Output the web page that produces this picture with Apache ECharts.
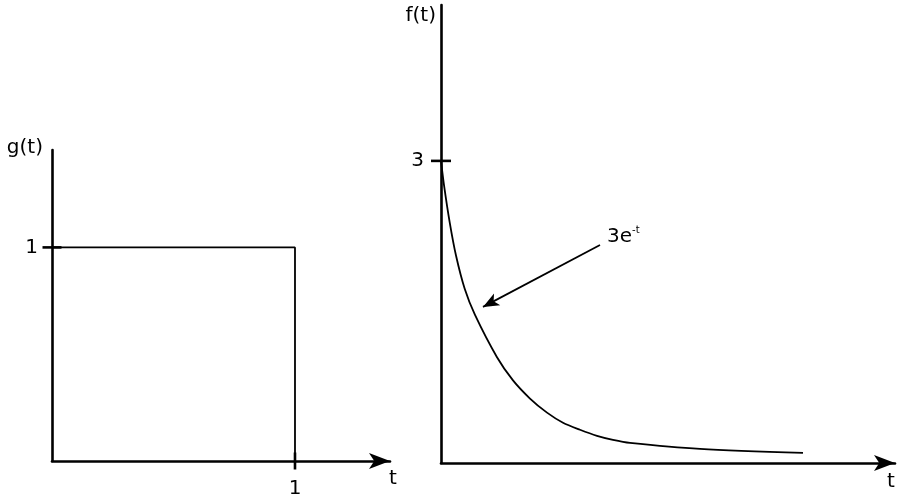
<!DOCTYPE html>
<html><head><meta charset="utf-8">
<script src="https://cdn.jsdelivr.net/npm/echarts@6/dist/echarts.min.js"></script>
<style>html,body{margin:0;padding:0;background:#fff}#c{width:900px;height:499px}</style>
</head><body><div id="c"></div>
<script>
// Left panel: g(t) rectangular pulse
const gPulse = [[0, 1], [1, 1], [1, 0]];
const gTickY = [1];
const gTickX = [1];
// Right panel: f(t) = 3e^-t (as drawn)
const fT = [0, 0.03, 0.087, 0.15, 0.237, 0.34, 0.56, 0.72, 0.89, 1.06, 1.22, 1.39, 1.56, 1.72, 1.89, 2.59, 3.62];
const fV = [3.00, 2.76, 2.39, 2.06, 1.73, 1.47, 1.05, 0.82, 0.64, 0.50, 0.40, 0.33, 0.27, 0.23, 0.20, 0.14, 0.10];
const fTickY = [3];
const annotFrom = [1.59, 2.165];
const annotTo = [0.42, 1.55];
const annotLabelAt = [1.66, 2.25];

const FONT = 'DejaVu Sans';
const axisLine = {lineStyle: {color: '#000', width: 2.6}};
const arrowLine = {symbol: ['none', 'arrow'], symbolSize: [12, 21], lineStyle: {color: '#000', width: 2.6}};
const txt = {fontFamily: FONT, fontSize: 20, color: '#000'};
const solid = {color: '#000', opacity: 1};

const chart = echarts.init(document.getElementById('c'), null, {renderer: 'canvas'});
chart.setOption({
  animation: false,
  backgroundColor: '#fff',
  grid: [
    {left: 52, right: 510, top: 150, bottom: 36},
    {left: 441, right: 5, top: 5, bottom: 36}
  ],
  xAxis: [
    {gridIndex: 0, type: 'value', min: 0, max: 1.391, splitLine: {show: false}, axisTick: {show: false},
     axisLine: arrowLine, axisLabel: {show: true, customValues: gTickX, margin: 18, ...txt},
     name: 't', nameLocation: 'end', nameGap: 3, nameTextStyle: {...txt, align: 'center', verticalAlign: 'top', padding: [8, 0, 0, 0]}},
    {gridIndex: 1, type: 'value', min: 0, max: 4.54, splitLine: {show: false}, axisTick: {show: false},
     axisLine: arrowLine, axisLabel: {show: false},
     name: 't', nameLocation: 'end', nameGap: -4, nameTextStyle: {...txt, align: 'center', verticalAlign: 'top', padding: [9, 0, 0, 0]}}
  ],
  yAxis: [
    {gridIndex: 0, type: 'value', min: 0, max: 1.456, splitLine: {show: false}, axisTick: {show: false},
     axisLine: axisLine, axisLabel: {show: true, customValues: gTickY, margin: 14, ...txt, padding: [3, 0, 0, 0]},
     name: 'g(t)', nameLocation: 'end', nameGap: 2, nameTextStyle: {...txt, align: 'right', verticalAlign: 'middle', padding: [0, 9, 0, 0]}},
    {gridIndex: 1, type: 'value', min: 0, max: 4.548, splitLine: {show: false}, axisTick: {show: false},
     axisLine: axisLine, axisLabel: {show: true, customValues: fTickY, margin: 17, ...txt, padding: [5, 0, 0, 0]},
     name: 'f(t)', nameLocation: 'end', nameGap: -11, nameTextStyle: {...txt, align: 'right', verticalAlign: 'middle', padding: [0, 5, 0, 0]}}
  ],
  series: [
    {type: 'line', xAxisIndex: 0, yAxisIndex: 0, data: gPulse, symbol: 'none', lineStyle: {color: '#000', width: 1.8}},
    {type: 'scatter', xAxisIndex: 0, yAxisIndex: 0, data: gTickY.map(v => [0, v]), symbol: 'rect', symbolSize: [19, 2.6], itemStyle: solid},
    {type: 'scatter', xAxisIndex: 0, yAxisIndex: 0, data: gTickX.map(v => [v, 0]), symbol: 'rect', symbolSize: [2.6, 17], itemStyle: solid},
    {type: 'line', xAxisIndex: 1, yAxisIndex: 1, data: fT.map((t, i) => [t, fV[i]]), symbol: 'none', smooth: 0.3,
     lineStyle: {color: '#000', width: 1.8},
     markLine: {silent: true, symbol: ['none', 'arrow'], symbolSize: [10, 16], label: {show: false},
       lineStyle: {color: '#000', width: 1.8, type: 'solid'},
       data: [[{coord: annotFrom}, {coord: annotTo}]]}},
    {type: 'scatter', xAxisIndex: 1, yAxisIndex: 1, data: fTickY.map(v => [0, v]), symbol: 'rect', symbolSize: [20, 2.6], itemStyle: solid},
    {type: 'scatter', xAxisIndex: 1, yAxisIndex: 1, data: [annotLabelAt], symbolSize: 0, itemStyle: solid,
     label: {show: true, position: 'right', distance: 0, color: '#000', formatter: '{a|3e}{b|-t}',
       rich: {a: {fontFamily: FONT, fontSize: 20, color: '#000'}, b: {fontFamily: FONT, fontSize: 10, color: '#000', padding: [0, 0, 12, 0]}}}}
  ]
});
</script></body></html>
